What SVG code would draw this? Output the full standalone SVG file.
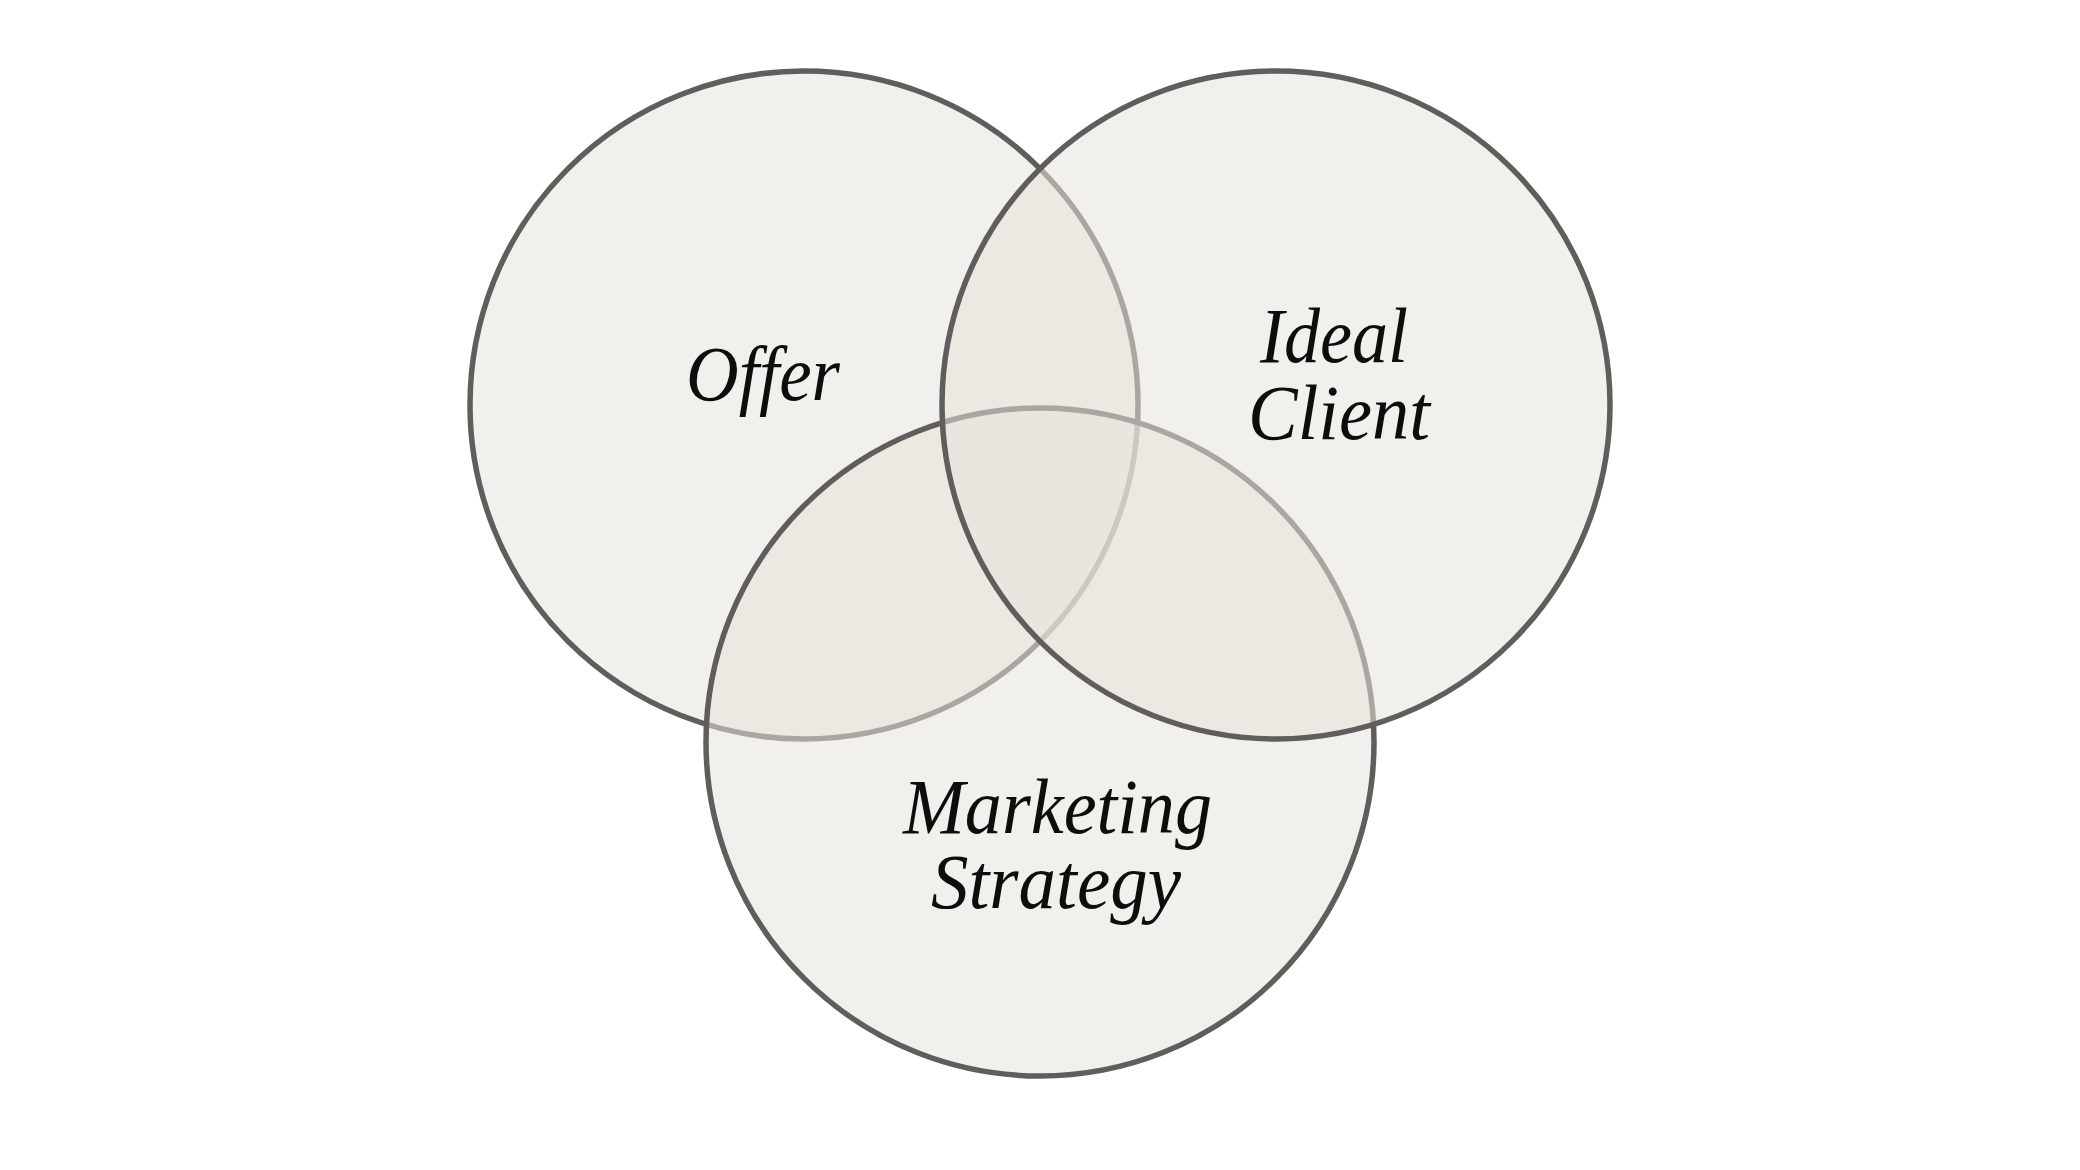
<svg xmlns="http://www.w3.org/2000/svg" width="2080" height="1170" viewBox="0 0 2080 1170">
  <style>
    .c { fill: #e8e4dc; fill-opacity: 0.55; stroke: #605e5c; stroke-width: 5.5; }
    .t { font-family: "Liberation Serif", "DejaVu Serif", serif; font-style: italic; font-size: 78px; fill: #0d0d0d; text-anchor: start; }
  </style>
  <rect width="2080" height="1170" fill="#ffffff"/>
  <g id="offer">
    <circle class="c" cx="804" cy="405" r="334"/>
  </g>
  <g id="marketing-strategy">
    <circle class="c" cx="1040" cy="742" r="334"/>
  </g>
  <g id="ideal-client">
    <circle class="c" cx="1276" cy="405" r="334"/>
  </g>
  <g id="labels">
    <text class="t" x="686" y="400" textLength="154" lengthAdjust="spacingAndGlyphs">Offer</text>
    <text class="t" x="1260" y="362" textLength="148" lengthAdjust="spacingAndGlyphs">Ideal</text>
    <text class="t" x="1248" y="439" textLength="182" lengthAdjust="spacingAndGlyphs">Client</text>
    <text class="t" x="903" y="833" textLength="309" lengthAdjust="spacingAndGlyphs">Marketing</text>
    <text class="t" x="931" y="908" textLength="250" lengthAdjust="spacingAndGlyphs">Strategy</text>
  </g>
  <g id="connectors"></g>
</svg>
